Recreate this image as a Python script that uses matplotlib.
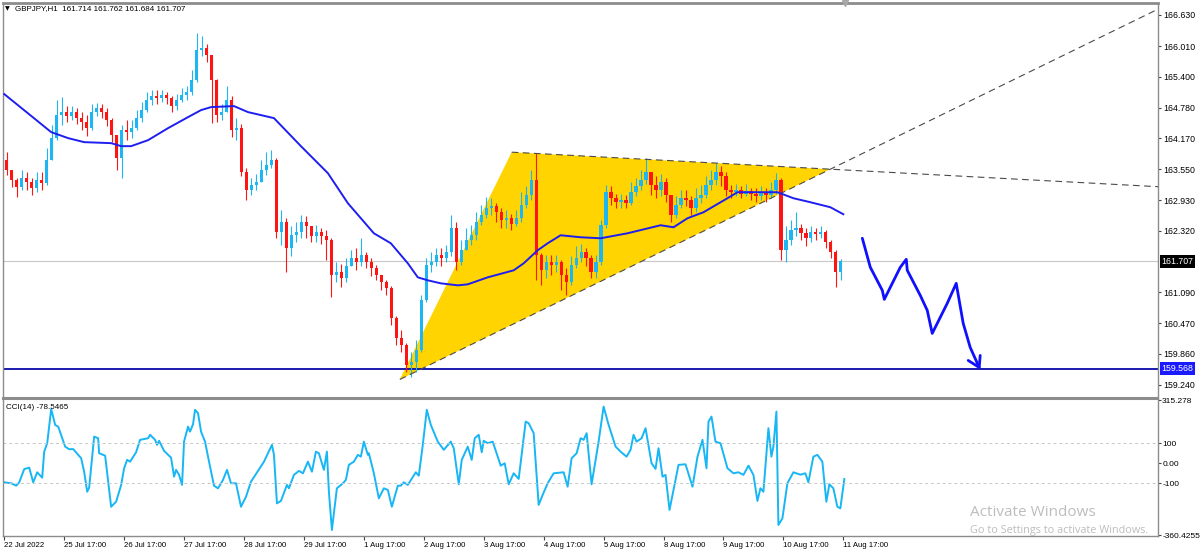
import numpy as np
import matplotlib.pyplot as plt
from matplotlib.patches import Polygon

plt.rcParams['font.family'] = ['Liberation Sans', 'DejaVu Sans']

# ---- data ----
# x axis = hours since the first bar (22 Jul 17:00), candles grouped by 2 hours
first_open = 163.73
closes = [
    163.53, 163.33, 163.19, 163.37, 163.29, 163.17, 163.33, 163.27, 163.73, 164.17,
    164.63, 164.69, 164.61, 164.69, 164.57, 164.49, 164.37, 164.69, 164.77, 164.69,
    164.53, 164.23, 163.77, 164.33, 164.29, 164.37, 164.57, 164.73, 164.93, 165.01,
    164.97, 165.03, 164.97, 164.81, 164.93, 165.03, 165.09, 165.33, 165.93, 165.97,
    165.83, 165.33, 164.63, 164.69, 164.93, 164.33, 164.37, 163.49, 163.13, 163.23,
    163.29, 163.53, 163.63, 163.73, 162.29, 162.49, 161.97, 162.23, 162.29, 162.49,
    162.41, 162.21, 162.29, 162.21, 162.13, 161.43, 161.49, 161.37, 161.61, 161.77,
    161.69, 161.83, 161.69, 161.57, 161.43, 161.29, 161.17, 160.57, 160.17, 160.03,
    159.63, 159.69, 159.93, 160.93, 161.63, 161.69, 161.83, 161.77, 161.89, 162.37,
    161.69, 161.93, 162.13, 162.23, 162.49, 162.63, 162.77, 162.81, 162.69, 162.53,
    162.57, 162.45, 162.57, 162.83, 163.03, 163.33, 161.83, 161.53, 161.69, 161.63,
    161.69, 161.43, 161.29, 161.63, 161.77, 161.89, 161.77, 161.49, 161.69, 162.43,
    163.09, 162.97, 162.89, 162.93, 162.87, 163.09, 163.21, 163.33, 163.49, 163.23,
    163.13, 163.29, 163.03, 162.63, 162.83, 162.97, 162.93, 162.77, 162.97, 163.03,
    163.23, 163.33, 163.49, 163.41, 163.13, 163.09, 163.13, 163.05, 163.11, 163.05,
    163.01, 163.09, 163.03, 163.13, 163.33, 161.93, 162.13, 162.33, 162.37, 162.27,
    162.17, 162.29, 162.25, 162.29, 162.09, 161.89, 161.49, 161.707,
]
highs = [
    163.89, 163.53, 163.37, 163.53, 163.49, 163.37, 163.49, 163.49, 163.97, 164.43,
    164.93, 164.99, 164.81, 164.81, 164.77, 164.69, 164.63, 164.85, 164.87, 164.85,
    164.77, 164.57, 164.23, 164.43, 164.53, 164.53, 164.73, 164.89, 165.09, 165.13,
    165.13, 165.13, 165.09, 165.01, 165.05, 165.17, 165.21, 165.53, 166.27, 166.21,
    166.05, 165.83, 165.35, 164.85, 165.21, 165.01, 164.57, 164.45, 163.57, 163.37,
    163.45, 163.73, 163.89, 163.93, 163.77, 162.73, 162.57, 162.41, 162.49, 162.63,
    162.61, 162.41, 162.43, 162.37, 162.33, 162.17, 161.69, 161.65, 161.77, 161.93,
    161.97, 162.17, 161.89, 161.77, 161.63, 161.43, 161.33, 161.21, 160.61, 160.33,
    160.07, 159.89, 160.13, 161.03, 161.77, 161.89, 161.97, 161.97, 162.03, 162.63,
    162.49, 162.13, 162.37, 162.43, 162.69, 162.83, 162.99, 162.97, 162.87, 162.77,
    162.73, 162.65, 162.73, 163.09, 163.21, 163.53, 163.87, 161.87, 161.83, 161.83,
    161.83, 161.73, 161.57, 161.81, 162.01, 162.05, 161.97, 161.83, 161.83, 162.53,
    163.23, 163.21, 163.05, 163.05, 163.03, 163.29, 163.37, 163.53, 163.77, 163.49,
    163.41, 163.45, 163.37, 163.03, 163.01, 163.13, 163.13, 163.01, 163.17, 163.23,
    163.41, 163.53, 163.67, 163.61, 163.49, 163.23, 163.25, 163.21, 163.25, 163.17,
    163.17, 163.21, 163.17, 163.29, 163.47, 163.37, 162.41, 162.53, 162.69, 162.45,
    162.37, 162.41, 162.37, 162.41, 162.33, 162.13, 161.93, 161.762,
]
lows = [
    163.43, 163.19, 162.99, 163.13, 163.13, 163.03, 163.09, 163.13, 163.23, 163.73,
    164.13, 164.43, 164.49, 164.53, 164.45, 164.33, 164.21, 164.33, 164.61, 164.57,
    164.41, 164.09, 163.53, 163.37, 164.13, 164.17, 164.33, 164.49, 164.69, 164.83,
    164.85, 164.89, 164.85, 164.69, 164.73, 164.89, 164.93, 165.03, 165.29, 165.81,
    165.69, 164.47, 164.49, 164.53, 164.69, 164.19, 164.13, 163.41, 162.93, 163.03,
    163.13, 163.29, 163.43, 163.57, 162.17, 162.03, 161.49, 161.81, 162.09, 162.17,
    162.17, 162.09, 162.09, 162.05, 161.73, 160.99, 161.29, 161.19, 161.29, 161.61,
    161.53, 161.61, 161.57, 161.41, 161.33, 161.13, 161.03, 160.43, 160.03, 159.89,
    159.49, 159.39, 159.49, 159.89, 160.89, 161.49, 161.61, 161.61, 161.69, 161.81,
    161.53, 161.63, 161.93, 162.03, 162.13, 162.43, 162.57, 162.63, 162.49, 162.37,
    162.37, 162.33, 162.41, 162.49, 162.77, 162.93, 161.33, 161.23, 161.37, 161.43,
    161.49, 161.13, 161.03, 161.23, 161.57, 161.69, 161.61, 161.37, 161.37, 161.63,
    162.37, 162.83, 162.77, 162.77, 162.77, 162.83, 163.01, 163.13, 163.25, 163.03,
    162.97, 163.01, 162.89, 162.49, 162.57, 162.77, 162.81, 162.63, 162.69, 162.87,
    162.97, 163.13, 163.23, 163.21, 163.01, 162.97, 163.01, 162.97, 163.01, 162.93,
    162.89, 162.93, 162.89, 162.97, 163.05, 161.73, 161.69, 162.03, 162.21, 162.13,
    162.01, 162.09, 162.13, 162.17, 161.97, 161.77, 161.19, 161.33,
]

# moving average (blue line), traced
ma_hours = [0, 18.8, 25.6, 32, 42.8, 46.8, 50.8, 57.6, 65.6, 73.6,
            78.8, 82.8, 92, 97.6, 108, 118.8, 129.6, 137.6, 148, 154.8,
            161.6, 165.6, 169.6, 174.8, 181.6, 185.6, 193.6, 204, 208, 213.6,
            217.6, 222.8, 230.8, 238.8, 249.6, 262.8, 268, 273.6, 280, 289.6,
            293.6, 302.8, 309.6, 316, 322.8, 330.8, 336]
ma_prices = [165.05, 164.29, 164.17, 164.09, 164.07, 164.01, 164.01, 164.13, 164.37, 164.59,
             164.73, 164.79, 164.81, 164.69, 164.57, 164.01, 163.47, 162.87, 162.27, 162.07,
             161.67, 161.39, 161.33, 161.27, 161.23, 161.25, 161.39, 161.53, 161.67, 161.93,
             162.07, 162.23, 162.19, 162.17, 162.27, 162.43, 162.39, 162.57, 162.69, 162.97,
             163.09, 163.09, 163.09, 162.97, 162.89, 162.79, 162.65]

# CCI(14), traced
cci_hours = [
    0, 2.8, 4.8, 6, 8, 10, 11.6, 13.2, 15.2, 16,
    17.2, 18.8, 20.4, 21.6, 24.4, 26, 27.6, 30.8, 32, 33.2,
    34, 36, 37.6, 38, 40.4, 42.8, 44.8, 46.8, 48, 49.2,
    50.4, 52.8, 54.4, 57.6, 58.4, 60.4, 61.2, 62, 64, 66.8,
    68, 68.8, 70, 71.2, 72, 73.6, 74.4, 75.6, 76.4, 77.6,
    78.8, 80.4, 82, 84, 85.6, 87.6, 89.2, 90.8, 92.8, 94.8,
    96.8, 98.8, 104, 107.2, 108, 109.2, 110.8, 113.2, 114, 116,
    118, 119.6, 121.6, 123.2, 124.8, 126, 127.6, 128, 129.2, 130,
    131.2, 133.2, 135.6, 136.8, 138, 140, 141.6, 142.8, 144, 145.6,
    146, 148, 150, 152, 153.6, 155.2, 157.6, 158.8, 160, 161.6,
    164.8, 166, 167.6, 169.2, 170.8, 173.6, 176, 178.8, 180, 182,
    183.2, 185.6, 187.2, 188.4, 190, 191.2, 192, 193.6, 195.6, 198.8,
    200.4, 202, 204, 206, 208.8, 210, 212, 214, 215.6, 217.6,
    220, 224, 225.6, 227.2, 229.2, 230.8, 232, 233.2, 235.2, 238,
    240, 242, 244.8, 246.8, 249.2, 250.8, 252, 253.2, 255.2, 256.8,
    259.2, 260.8, 262, 263.6, 264.8, 266.4, 268, 270, 272.8, 275.6,
    277.6, 279.6, 281.2, 282, 283.2, 284.8, 286.8, 289.6, 292, 294,
    296, 298, 300, 301.6, 302.8, 304, 306, 307.2, 308, 309.2,
    310, 311.6, 313.6, 316, 318.8, 320.8, 322, 324, 325.6, 327.6,
    329.2, 330.4, 332, 333.6, 334.8, 336.4,
]
cci_values = [
    -95, -100, -112, -95, -29, -22, -95, -45, -72, 58,
    100, 271, 191, 183, 83, 70, 71, 25, -42, -142,
    -122, 133, 125, 50, 38, -217, -192, -109, -25, 17,
    8, 55, 117, 125, 142, 117, 92, 112, 62, 28,
    -67, -33, -58, -108, 108, 183, 158, 195, 267, 250,
    158, 108, 8, -112, -125, -83, -33, -100, -100, -217,
    -167, -92, 8, 92, 42, -200, -188, -108, -125, -58,
    -38, -50, 8, -42, 58, 50, -17, -33, 58, -142,
    -333, -125, -100, -83, -8, 8, 42, 33, 108, 42,
    50, -50, -175, -125, -133, -217, -112, -112, -95, -108,
    -45, -62, 92, 267, 192, 108, 67, 108, 75, -105,
    17, 83, 17, 125, 142, 55, 112, 100, 108, -12,
    0, -105, -50, -78, 208, 200, 150, -208, -158, -100,
    -50, -45, -117, 25, 50, 125, 117, 150, -105, 108,
    283, 192, 83, 58, 33, 67, 142, 108, 125, 175,
    0, -28, 75, -67, -58, -233, -133, -8, -5, -117,
    33, 117, -25, 208, 233, 108, 100, -25, -50, -45,
    -58, -12, -58, -188, -125, -142, 175, 33, 83, 258,
    -308, -275, -100, -45, -57, -50, -95, 33, 42, 8,
    -192, -105, -125, -217, -225, -78.5,
]

day_ticks = [0, 24, 48, 72, 96, 120, 144, 168, 192, 216, 240, 264, 288, 312, 336]
day_labels = ['22 Jul 2022', '25 Jul 17:00', '26 Jul 17:00', '27 Jul 17:00', '28 Jul 17:00',
              '29 Jul 17:00', '1 Aug 17:00', '2 Aug 17:00', '3 Aug 17:00', '4 Aug 17:00',
              '5 Aug 17:00', '8 Aug 17:00', '9 Aug 17:00', '10 Aug 17:00', '11 Aug 17:00']
price_ticks = [166.630, 166.010, 165.400, 164.780, 164.170, 163.550, 162.930,
               162.320, 161.090, 160.470, 159.860, 159.240]
last_price = 161.707
support_price = 159.568

# drawn objects (hours, price)
triangle = [(158.4, 159.35), (203.2, 163.89), (330.8, 163.55)]
forecast_hours = [343.6, 346.8, 351.6, 352.4, 354.8, 358.8, 361.2, 361.6, 366.8,
                  369.6, 371.6, 372.8, 377.6, 381.2, 384, 386.8, 390.4]
forecast_prices = [162.17, 161.59, 161.13, 160.95, 161.19, 161.59, 161.75, 161.53, 161.03,
                   160.73, 160.27, 160.39, 160.87, 161.27, 160.47, 159.99, 159.59]
arrow_head_hours = [386, 390.4, 390.8]
arrow_head_prices = [159.73, 159.59, 159.83]

X_MAX = 462
BULL = '#1db6f2'
BEAR = '#ff1414'
AXIS_FS = 6.3


def extend_line(p0, p1, x_end):
    slope = (p1[1] - p0[1]) / (p1[0] - p0[0])
    return [p0[0], x_end], [p0[1], p0[1] + slope * (x_end - p0[0])]


fig = plt.figure(figsize=(12, 5.5), dpi=100)
ax = fig.add_axes([0.0025, 0.2764, 0.9625, 0.7182])
cx = fig.add_axes([0.0025, 0.0255, 0.9625, 0.2491], sharex=ax)

# ---- price panel ----
t = np.arange(len(closes)) * 2 + 1.0
o = np.array([first_open] + closes[:-1])
c = np.array(closes)
hi = np.maximum(np.array(highs), np.maximum(o, c))
lo = np.minimum(np.array(lows), np.minimum(o, c))
colors = np.where(c >= o, BULL, BEAR)

ax.add_patch(Polygon(triangle, closed=True, fc='#ffd400', ec='none', zorder=1))
ax.axhline(last_price, color='#c8c8c8', lw=0.8, zorder=0.5)
ax.axhline(support_price, color='#0a0aa8', lw=1.3, zorder=2)

ax.vlines(t, lo, hi, colors=colors, lw=0.8, zorder=3)
ax.bar(t, np.maximum(np.abs(c - o), 0.012), bottom=np.minimum(o, c), width=1.3,
       color=colors, lw=0, zorder=3)

ax.plot(ma_hours, ma_prices, color='#1e1ef0', lw=1.4, zorder=5)

# trend lines from the triangle corners
for a, b in [(triangle[1], triangle[2]), (triangle[0], triangle[2])]:
    xs, ys = extend_line(a, b, X_MAX)
    ax.plot(xs, ys, color='#4a4a4a', lw=0.8, ls=(0, (6, 4)), zorder=4)

# hand drawn forecast
ax.plot(forecast_hours, forecast_prices, color='#1010ff', lw=2, zorder=6,
        solid_joinstyle='round', solid_capstyle='round')
ax.plot(arrow_head_hours, arrow_head_prices, color='#1010ff', lw=2, zorder=6,
        solid_joinstyle='round', solid_capstyle='round')

ax.set_xlim(-0.5, X_MAX)
ax.set_ylim(158.98, 166.87)
ax.yaxis.tick_right()
ax.set_yticks(price_ticks)
ax.set_yticklabels([f'{v:.3f}' for v in price_ticks])
ax.tick_params(axis='y', length=2.5, width=0.8, colors='#444444', labelcolor='black',
               labelsize=AXIS_FS, pad=1.5)
ax.tick_params(axis='x', bottom=False, labelbottom=False)

ytr = ax.get_yaxis_transform()
ax.text(1.003, last_price, f'{last_price:.3f}', transform=ytr, fontsize=AXIS_FS, color='white',
        va='center', ha='left', bbox=dict(boxstyle='square,pad=0.2', fc='black', ec='none'))
ax.text(1.003, support_price, f'{support_price:.3f}', transform=ytr, fontsize=AXIS_FS, color='white',
        va='center', ha='left', bbox=dict(boxstyle='square,pad=0.2', fc='#1a1aff', ec='none'))

ax.text(0.0015, 0.9845, '\u25bc', transform=ax.transAxes, fontsize=4.5, va='center', ha='left',
        family=['DejaVu Sans'])
ax.text(0.0105, 0.985, 'GBPJPY,H1  161.714 161.762 161.684 161.707',
        transform=ax.transAxes, fontsize=5.8, va='center', ha='left')
ax.plot([336.8], [166.87], marker='v', color='#a8a8a8', ms=5, clip_on=False, zorder=7)

for name, sp in ax.spines.items():
    sp.set_color('#8c8c8c')
    sp.set_linewidth(1.0)
ax.spines['top'].set_linewidth(2.0)
ax.spines['bottom'].set_linewidth(1.5)

# ---- CCI panel ----
cx.plot(cci_hours, cci_values, color='#17b6f5', lw=1.4)
for lvl in (100, -100):
    cx.axhline(lvl, color='#c8c8c8', lw=0.7, ls=(0, (3, 3)))
cx.set_ylim(-363, 321)
cx.yaxis.tick_right()
cx.set_yticks([315.278, 100, 0, -100, -360.4255])
cx.set_yticklabels(['315.278', '100', '0.00', '-100', '-360.4255'])
cx.tick_params(axis='y', length=2, width=0.8, colors='#444444', labelcolor='black',
               labelsize=6.0, pad=1)
cx.set_xticks(day_ticks)
cx.set_xticklabels(day_labels)
cx.tick_params(axis='x', length=3, width=0.8, colors='#444444', labelcolor='black',
               labelsize=5.6, pad=1)
for lbl in cx.get_xticklabels():
    lbl.set_ha('left')
cx.text(0.003, 0.965, 'CCI(14) -78.5465', transform=cx.transAxes, fontsize=5.8, va='top')

for name, sp in cx.spines.items():
    sp.set_color('#8c8c8c')
    sp.set_linewidth(1.0)
cx.spines['top'].set_linewidth(1.5)

# windows watermark
fig.text(970 / 1200, 1 - 513 / 550, 'Activate Windows', fontsize=11, color='#bdbdbd',
         va='center', family=['Open Sans', 'DejaVu Sans'])
fig.text(970 / 1200, 1 - 531 / 550, 'Go to Settings to activate Windows.', fontsize=7.8,
         color='#bdbdbd', va='center', family=['Open Sans', 'DejaVu Sans'])

fig.savefig('out.png', dpi=100)
